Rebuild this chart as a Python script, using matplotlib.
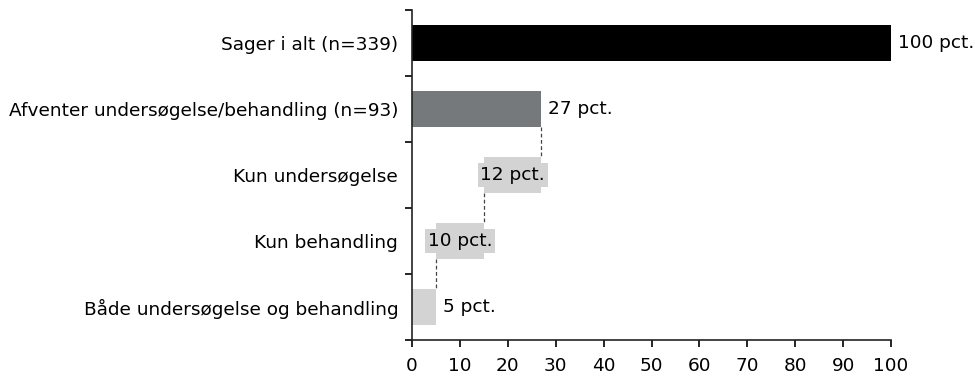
import matplotlib.pyplot as plt

# Sager fordelt efter status
categories = ["Sager i alt (n=339)", "Afventer undersøgelse/behandling (n=93)",
              "Kun undersøgelse", "Kun behandling", "Både undersøgelse og behandling"]
values = [100, 27, 12, 10, 5]
starts = [0, 0, 15, 5, 0]
colors = ["#000000", "#75797b", "#d3d3d3", "#d3d3d3", "#d3d3d3"]

fs = 13.3

fig = plt.figure(figsize=(9.75, 3.78), dpi=100)
ax = fig.add_axes([0.4226, 0.1005, 0.4913, 0.873])

ypos = list(range(len(categories)))
ax.barh(ypos, values, left=starts, height=0.55, color=colors, zorder=2)
ax.set_ylim(len(categories) - 0.5, -0.5)
ax.set_xlim(0, 100)

# stiplede forbindelseslinjer mellem trinene
conn = [(1, values[1]), (2, starts[2]), (3, starts[3])]
for i, x in conn:
    ax.plot([x, x], [i + 0.275, i + 1 - 0.275], color="#444444",
            lw=0.9, ls=(0, (3, 2)), zorder=1)

# værdietiketter
for i, (v, s) in enumerate(zip(values, starts)):
    txt = f"{v} pct."
    if i in (2, 3):
        ax.text(s + v / 2, i, txt, ha="center", va="center", fontsize=fs,
                bbox=dict(boxstyle="square,pad=0.15", fc="#d3d3d3", ec="none"),
                zorder=3)
    else:
        ax.text(s + v + 1.4, i, txt, ha="left", va="center", fontsize=fs,
                clip_on=False)

ax.set_yticks([y + 0.5 for y in [-1] + ypos])
ax.set_yticklabels([])
ax.set_yticks(ypos, minor=True)
ax.set_yticklabels(categories, minor=True, fontsize=fs)
ax.tick_params(axis="y", which="minor", length=0, pad=10)
ax.tick_params(axis="y", which="major", length=5, width=1.2, direction="out")
ax.set_xticks(range(0, 101, 10))
ax.tick_params(axis="x", length=5, width=1.2, labelsize=fs, pad=7)

for side in ["top", "right"]:
    ax.spines[side].set_visible(False)
for side in ["left", "bottom"]:
    ax.spines[side].set_linewidth(1.2)
    ax.spines[side].set_color("#222222")

fig.savefig("out.png", dpi=100)
